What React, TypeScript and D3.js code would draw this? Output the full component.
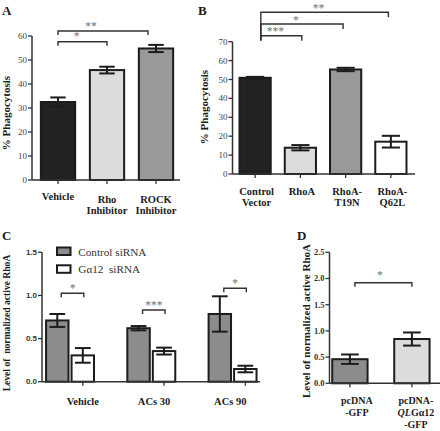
import React from "react";
import * as d3 from "d3";

// ---------- DATA ----------
const A_CATEGORIES = ["Vehicle", "Rho Inhibitor", "ROCK Inhibitor"];
const A_LABEL_LINES = [["Vehicle"], ["Rho", "Inhibitor"], ["ROCK", "Inhibitor"]];
const A_VALUES = [32.5, 45.8, 54.8];
const A_ERRORS = [1.9, 1.4, 1.5];
const A_TICKS = [0, 10, 20, 30, 40, 50, 60];
const A_BRACKETS = [
  { from: 0, to: 1, label: "*" },
  { from: 0, to: 2, label: "**" },
];

const B_CATEGORIES = ["Control Vector", "RhoA", "RhoA-T19N", "RhoA-Q62L"];
const B_LABEL_LINES = [["Control", "Vector"], ["RhoA"], ["RhoA-", "T19N"], ["RhoA-", "Q62L"]];
const B_VALUES = [50.9, 13.9, 55.3, 17.1];
const B_ERRORS = [0.5, 1.4, 0.9, 3.1];
const B_TICKS = [0, 10, 20, 30, 40, 50, 60, 70];
const B_BRACKETS = [
  { from: 0, to: 1, label: "***" },
  { from: 0, to: 2, label: "*" },
  { from: 0, to: 3, label: "**" },
];

const C_GROUPS = ["Vehicle", "ACs 30", "ACs 90"];
const C_SERIES = ["Control siRNA", "G\u03b112  siRNA"];
const C_CONTROL = [0.71, 0.62, 0.785];
const C_CONTROL_ERR = [0.075, 0.025, 0.205];
const C_GA12 = [0.305, 0.355, 0.147];
const C_GA12_ERR = [0.085, 0.04, 0.038];
const C_TICKS = [0, 0.5, 1.0, 1.5];
const C_STARS = ["*", "***", "*"];

const D_CATEGORIES = ["pcDNA-GFP", "pcDNA-QLG\u03b112-GFP"];
const D_VALUES = [0.46, 0.845];
const D_ERRORS = [0.09, 0.125];
const D_TICKS = [0, 0.5, 1.0, 1.5, 2.0, 2.5];
const D_BRACKETS = [{ from: 0, to: 1, label: "*" }];

// ---------- STYLE ----------
const SERIF = "'Liberation Serif', 'Times New Roman', serif";
const SANS = "'Liberation Sans', Arial, sans-serif";
const INK = "#1c1c1c";
const AXIS = "#333";
const STAR = "#707070";
const PRE = { whiteSpace: "pre" } as any;

function YAxis({ x, y, ticks, fmt, fontFamily, fontSize, fontWeight, color }) {
  const [b, t] = y.range();
  return (
    <g>
      <line x1={x} x2={x} y1={b} y2={t} stroke={AXIS} strokeWidth={1.5} />
      {ticks.map((v) => (
        <g key={v}>
          <line x1={x - 4} x2={x} y1={y(v)} y2={y(v)} stroke={AXIS} strokeWidth={1.3} />
          <text
            x={x - 5}
            y={y(v) + fontSize * 0.34}
            textAnchor="end"
            fontFamily={fontFamily}
            fontSize={fontSize}
            fontWeight={fontWeight}
            fill={color}
          >
            {fmt(v)}
          </text>
        </g>
      ))}
    </g>
  );
}

function XAxisLine({ x1, x2, y, ticks }) {
  return (
    <g>
      <line x1={x1} x2={x2} y1={y} y2={y} stroke={AXIS} strokeWidth={1.5} />
      {ticks.map((tx, i) => (
        <line key={i} x1={tx} x2={tx} y1={y} y2={y + 4} stroke={AXIS} strokeWidth={1.3} />
      ))}
    </g>
  );
}

function Bar({ x, w, y, v, e, fill, capFrac }) {
  const y0 = y.range()[0];
  const cx = x + w / 2;
  const cap = w * capFrac;
  return (
    <g>
      <rect x={x} y={y(v)} width={w} height={y0 - y(v)} fill={fill} stroke={INK} strokeWidth={2} />
      <line x1={cx} x2={cx} y1={y(v - e)} y2={y(v + e)} stroke={INK} strokeWidth={2} />
      <line x1={cx - cap / 2} x2={cx + cap / 2} y1={y(v + e)} y2={y(v + e)} stroke={INK} strokeWidth={2} />
      <line x1={cx - cap / 2} x2={cx + cap / 2} y1={y(v - e)} y2={y(v - e)} stroke={INK} strokeWidth={2} />
    </g>
  );
}

function Bracket({ x1, x2, y, leftBottom, rightBottom, label, starDx, starGap }) {
  return (
    <g>
      <path
        d={`M${x1},${leftBottom} V${y} H${x2} V${rightBottom}`}
        fill="none"
        stroke={AXIS}
        strokeWidth={1.4}
      />
      <g opacity={0.99}>
        <text
          x={(x1 + x2) / 2 + starDx}
          y={y - starGap + 5}
          textAnchor="middle"
          fontFamily={SERIF}
          fontSize={11.5}
          fill={STAR}
          style={PRE}
        >
          {label}
        </text>
      </g>
    </g>
  );
}

function YTitle({ x, y, text, size }) {
  return (
    <text
      transform={`translate(${x},${y}) rotate(-90)`}
      textAnchor="middle"
      fontFamily={SERIF}
      fontWeight="bold"
      fontSize={size}
      fill={INK}
      style={PRE}
    >
      {text}
    </text>
  );
}

function PanelLetter({ x, y, t }) {
  return (
    <text x={x} y={y} fontFamily={SERIF} fontWeight="bold" fontSize={13} fill={INK}>
      {t}
    </text>
  );
}

function PanelA() {
  const fills = ["#222222", "#dcdcdc", "#999999"];
  const x = d3.scaleBand().domain(A_CATEGORIES).range([33.5, 180.5]).paddingInner(0.3).paddingOuter(0.15);
  const y = d3.scaleLinear().domain([0, 60]).range([180, 36]);
  const cx = (c) => x(c) + x.bandwidth() / 2;
  const rightDx = [0, -8];
  const brY = [41.7, 31];
  return (
    <g>
      <PanelLetter x={2} y={15} t="A" />
      <YTitle x={9.5} y={113} text="% Phagocytosis" size={11} />
      {A_CATEGORIES.map((c, i) => (
        <Bar key={c} x={x(c)} w={x.bandwidth()} y={y} v={A_VALUES[i]} e={A_ERRORS[i]} fill={fills[i]} capFrac={0.45} />
      ))}
      <YAxis x={32} y={y} ticks={A_TICKS} fmt={d3.format("d")} fontFamily={SERIF} fontSize={9} fontWeight="normal" color="#444" />
      <XAxisLine x1={32} x2={180} y={180} ticks={A_CATEGORIES.map(cx)} />
      {A_CATEGORIES.map((c, i) =>
        A_LABEL_LINES[i].map((ln, j) => (
          <text
            key={c + j}
            x={cx(c)}
            y={A_LABEL_LINES[i].length === 1 ? 200 : 202.5 + j * 11.5}
            textAnchor="middle"
            fontFamily={SERIF}
            fontWeight="bold"
            fontSize={10.5}
            fill={INK}
          >
            {ln}
          </text>
        ))
      )}
      {A_BRACKETS.map((b, i) => (
        <Bracket
          key={i}
          x1={cx(A_CATEGORIES[b.from])}
          x2={cx(A_CATEGORIES[b.to]) + rightDx[i]}
          y={brY[i]}
          leftBottom={brY[i] + 4}
          rightBottom={brY[i] + 4}
          label={b.label}
          starDx={-6 - i * 6}
          starGap={6.5}
        />
      ))}
    </g>
  );
}

function PanelB() {
  const fills = ["#222222", "#dcdcdc", "#999999", "#ffffff"];
  const x = d3.scaleBand().domain(B_CATEGORIES).range([232.5, 413.5]).paddingInner(0.31).paddingOuter(0.155);
  const y = d3.scaleLinear().domain([0, 70]).range([174, 41.7]);
  const cx = (c) => x(c) + x.bandwidth() / 2;
  const brY = [35.7, 24, 12.3];
  return (
    <g>
      <PanelLetter x={198} y={15} t="B" />
      <YTitle x={207.5} y={107} text="% Phagocytosis" size={11} />
      {B_CATEGORIES.map((c, i) => (
        <Bar key={c} x={x(c)} w={x.bandwidth()} y={y} v={B_VALUES[i]} e={B_ERRORS[i]} fill={fills[i]} capFrac={0.58} />
      ))}
      <YAxis x={232.5} y={y} ticks={B_TICKS} fmt={d3.format("d")} fontFamily={SERIF} fontSize={9} fontWeight="normal" color="#444" />
      <XAxisLine x1={232.5} x2={415} y={174} ticks={B_CATEGORIES.map(cx)} />
      {B_CATEGORIES.map((c, i) =>
        B_LABEL_LINES[i].map((ln, j) => (
          <text
            key={c + j}
            x={cx(c) + 1.5}
            y={195.2 + j * 11}
            textAnchor="middle"
            fontFamily={SERIF}
            fontWeight="bold"
            fontSize={10.5}
            fill={INK}
          >
            {ln}
          </text>
        ))
      )}
      {B_BRACKETS.map((b, i) => (
        <Bracket
          key={i}
          x1={cx(B_CATEGORIES[b.from]) + 5.7}
          x2={cx(B_CATEGORIES[b.to]) + (i === 0 ? 1.4 : -2.5)}
          y={brY[i]}
          leftBottom={40.5}
          rightBottom={brY[i] + 5}
          label={b.label}
          starDx={-6}
          starGap={5.5}
        />
      ))}
    </g>
  );
}

function PanelC() {
  const fills = ["#8c8c8c", "#ffffff"];
  const x0 = d3.scaleBand().domain(C_GROUPS).range([42, 260.6]).paddingInner(0.41).paddingOuter(0.05);
  const x1 = d3.scaleBand().domain(C_SERIES).range([0, x0.bandwidth()]).paddingInner(0.12);
  const y = d3.scaleLinear().domain([0, 1.5]).range([381.7, 252.3]);
  const values = [C_CONTROL, C_GA12];
  const errs = [C_CONTROL_ERR, C_GA12_ERR];
  const barC = (g, s) => x0(g) + x1(s) + x1.bandwidth() / 2;
  const tickX = C_GROUPS.map((g) => barC(g, C_SERIES[1]));
  const labelDx = [0, -10, -15];
  const brY = [293.3, 310, 288.3];
  return (
    <g>
      <PanelLetter x={2} y={240} t="C" />
      <YTitle x={10} y={323} text={"Level of  normalized active RhoA"} size={9.6} />
      {C_GROUPS.map((g, gi) =>
        C_SERIES.map((s, si) => (
          <Bar
            key={g + s}
            x={x0(g) + x1(s)}
            w={x1.bandwidth()}
            y={y}
            v={values[si][gi]}
            e={errs[si][gi]}
            fill={fills[si]}
            capFrac={0.7}
          />
        ))
      )}
      <YAxis x={42} y={y} ticks={C_TICKS} fmt={d3.format(".1f")} fontFamily={SANS} fontSize={8} fontWeight="bold" color="#333" />
      <XAxisLine x1={42} x2={260} y={381.7} ticks={tickX} />
      {C_GROUPS.map((g, i) => (
        <text
          key={g}
          x={tickX[i] + labelDx[i]}
          y={405}
          textAnchor="middle"
          fontFamily={SERIF}
          fontWeight="bold"
          fontSize={10.5}
          fill={INK}
        >
          {g}
        </text>
      ))}
      {C_GROUPS.map((g, i) => (
        <Bracket
          key={g}
          x1={barC(g, C_SERIES[0]) + 4}
          x2={barC(g, C_SERIES[1]) + 1}
          y={brY[i]}
          leftBottom={brY[i] + 4}
          rightBottom={brY[i] + 4}
          label={C_STARS[i]}
          starDx={0}
          starGap={6.5}
        />
      ))}
      {C_SERIES.map((s, i) => (
        <g key={s}>
          <rect x={57} y={247.5 + i * 17.8} width={13.5} height={7.5} fill={fills[i]} stroke={INK} strokeWidth={2} />
          <text x={78.3} y={255.5 + i * 17.8} fontFamily={SERIF} fontSize={11.2} fill="#333" style={PRE}>
            {s}
          </text>
        </g>
      ))}
    </g>
  );
}

function PanelD() {
  const fills = ["#8c8c8c", "#dcdcdc"];
  const x = d3.scaleBand().domain(D_CATEGORIES).range([329.5, 432.3]).paddingInner(0.43).paddingOuter(0.044);
  const y = d3.scaleLinear().domain([0, 2.5]).range([383.3, 252.3]);
  const cx = (c) => x(c) + x.bandwidth() / 2;
  return (
    <g>
      <PanelLetter x={297} y={240} t="D" />
      <YTitle x={310} y={321} text="Level of normalized active RhoA" size={11} />
      {D_CATEGORIES.map((c, i) => (
        <Bar key={c} x={x(c)} w={x.bandwidth()} y={y} v={D_VALUES[i]} e={D_ERRORS[i]} fill={fills[i]} capFrac={0.5} />
      ))}
      <YAxis x={329.5} y={y} ticks={D_TICKS} fmt={d3.format(".1f")} fontFamily={SERIF} fontSize={8.5} fontWeight="bold" color="#333" />
      <XAxisLine x1={329.5} x2={440} y={383.3} ticks={D_CATEGORIES.map(cx)} />
      <g fontFamily={SERIF} fontWeight="bold" fontSize={10} fill={INK} textAnchor="middle">
        <text x={cx(D_CATEGORIES[0]) + 7} y={404}>pcDNA</text>
        <text x={cx(D_CATEGORIES[0]) + 7} y={415.8}>-GFP</text>
        <text x={cx(D_CATEGORIES[1]) + 4} y={404}>pcDNA-</text>
        <text x={cx(D_CATEGORIES[1]) + 4} y={415.8}>
          <tspan fontStyle="italic">QL</tspan>
          {"G\u03b112"}
        </text>
        <text x={cx(D_CATEGORIES[1]) + 4} y={427.6}>-GFP</text>
      </g>
      {D_BRACKETS.map((b, i) => (
        <Bracket
          key={i}
          x1={cx(D_CATEGORIES[b.from]) + 5}
          x2={cx(D_CATEGORIES[b.to])}
          y={282.7}
          leftBottom={286.7}
          rightBottom={286.7}
          label={b.label}
          starDx={-3.5}
          starGap={9}
        />
      ))}
    </g>
  );
}

export default function App() {
  return (
    <svg
      width={440}
      height={431}
      viewBox="0 0 440 431"
      style={{ position: "absolute", left: 0, top: 0, background: "#fff" }}
    >
      <rect width={440} height={431} fill="#fff" />
      <PanelA />
      <PanelB />
      <PanelC />
      <PanelD />
    </svg>
  );
}
